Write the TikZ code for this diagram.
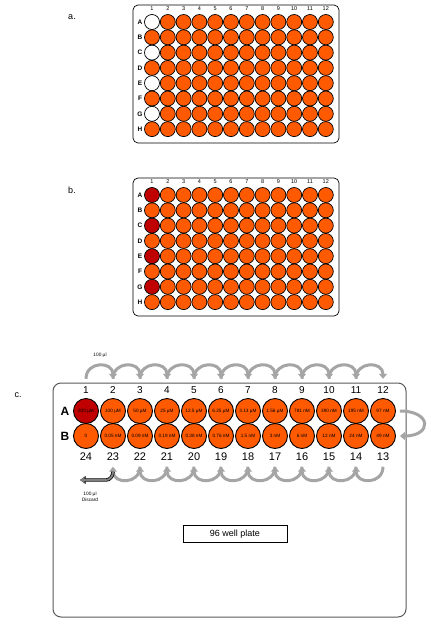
\documentclass[tikz,border=0pt]{standalone}
\usepackage{fontspec}
\setmainfont{Liberation Sans}
\usepackage{xcolor}
\usepackage{tikz}
\usetikzlibrary{arrows.meta, positioning, calc}
\definecolor{wellorange}{RGB}{255,90,0}
\definecolor{welldark}{RGB}{192,0,0}
\definecolor{flowgray}{RGB}{165,165,165}

\begin{document}
\begin{tikzpicture}[x=1pt, y=1pt,
    well/.style={
      circle, draw=black, line width=0.7pt, fill=wellorange,
      minimum size=15pt, inner sep=0pt
    },
    bigwell/.style={
      circle, draw=black, line width=0.9pt, fill=wellorange,
      minimum size=25pt, inner sep=0pt, font=\fontsize{4.7}{5}\selectfont
    },
    plate/.style={draw=black, line width=0.7pt, rounded corners=5pt},
    smallnum/.style={font=\fontsize{5.5}{6}\selectfont, inner sep=0pt},
    rowlab/.style={font=\bfseries\fontsize{6.5}{7}\selectfont, inner sep=0pt},
    bignum/.style={
      font=\fontsize{10}{11}\selectfont, inner sep=1pt,
      text height=7pt, text depth=0pt
    },
    bigrow/.style={font=\bfseries\fontsize{12}{13}\selectfont, inner sep=0pt},
    panel/.style={font=\fontsize{9}{10}\selectfont},
    flow/.style={draw=flowgray, line width=3pt, -{Triangle[width=8pt,length=5pt]}},
    discard/.style={
      draw=black!50, line width=2pt, -{Triangle[width=6pt,length=4.5pt]},
      preaction={draw=black, line width=3.4pt, -{Triangle[width=7.5pt,length=5.5pt]}}
    },
    note/.style={font=\fontsize{4.8}{5.5}\selectfont, align=center}
  ]
  \useasboundingbox (0,0) rectangle (429,-624);

  % panels a and b
  \foreach \p/\top/\first in {a/0/white, b/173/welldark} {
    \draw[plate] (133,-5-\top) rectangle (339,-143-\top);
    \node[panel] (lab-\p) at (72,-17-\top) {\p.};
    \foreach \c in {1,...,12}
      \node[smallnum] (\p-h\c) at ({152+(\c-1)*15.8},-9-\top) {\c};
    \foreach \r [count=\i] in {A,B,C,D,E,F,G,H} {
      \node[rowlab] (\p-r\r) at (140,{-\top-22-(\i-1)*15.3}) {\r};
      \foreach \c in {1,...,12} {
        \def\fillc{wellorange}
        \ifnum\c=1 \ifodd\i \def\fillc{\first}\fi\fi
        \node[well, fill=\fillc] (\p-\r\c) at ({152+(\c-1)*15.8},{-\top-22-(\i-1)*15.3}) {};
      }
    }
  }

  % panel c
  \draw[draw=black!65, line width=1pt, rounded corners=8pt] (53,-383) rectangle (406,-617);
  \node[panel] (lab-c) at (18,-395) {c.};
  \foreach \c in {1,...,12}
    \node[bignum] (c-t\c) at ({86+(\c-1)*27},-390) {\c};
  \node[bigrow] (c-rA) at (65,-411) {A};
  \node[bigrow] (c-rB) at (65,-436) {B};

  \foreach \c/\lab in {1/200 µM, 2/100 µM, 3/50 µM, 4/25 µM, 5/12.5 µM, 6/6.25 µM,
                       7/3.13 µM, 8/1.56 µM, 9/781 nM, 10/390 nM, 11/195 nM, 12/97 nM} {
    \def\fillc{wellorange}
    \ifnum\c=1 \def\fillc{welldark}\fi
    \node[bigwell, fill=\fillc] (c-A\c) at ({86+(\c-1)*27},-411) {\lab};
  }
  \foreach \c/\lab in {1/0, 2/0.05 nM, 3/0.09 nM, 4/0.19 nM, 5/0.38 nM, 6/0.76 nM,
                       7/1.5 nM, 8/3 nM, 9/6 nM, 10/12 nM, 11/24 nM, 12/49 nM}
    \node[bigwell] (c-B\c) at ({86+(\c-1)*27},-436) {\lab};

  \foreach \c in {1,...,12} {
    \pgfmathtruncatemacro\k{25-\c}
    \node[bignum, font=\fontsize{11}{12}\selectfont] (c-b\k) at ({86+(\c-1)*27},-457) {\k};
  }

  % serial dilution
  \foreach \c [evaluate=\c as \n using int(\c+1)] in {1,...,11}
    \draw[flow] ([yshift=6.5pt]c-t\c.north) to[out=90,in=90,looseness=1.7] ([yshift=6.5pt]c-t\n.north);
  \draw[flow] ([xshift=4pt]c-A12.east) to[out=0,in=0,looseness=3.3] ([xshift=4pt]c-B12.east);
  \foreach \k [evaluate=\k as \n using int(\k+1)] in {13,...,22}
    \draw[flow] ([yshift=-5pt]c-b\k.south) to[out=-90,in=-90,looseness=1.7] ([yshift=-5pt]c-b\n.south);

  \coordinate (bin) at (80,-480);
  \draw[discard] ([yshift=-10pt]c-b23.south) to[out=-90,in=0] ([xshift=26pt]bin) -- (bin);

  \node[note] (vol-top) at (100,-355) {100 µl};
  \node[note] (vol-bin) at (90,-497) {100 µl\\Discard};

  \node[draw=black, line width=0.8pt, minimum width=104pt, minimum height=17pt,
        font=\fontsize{9}{10}\selectfont] (name) at (235,-534) {96 well plate};
\end{tikzpicture}
\end{document}
